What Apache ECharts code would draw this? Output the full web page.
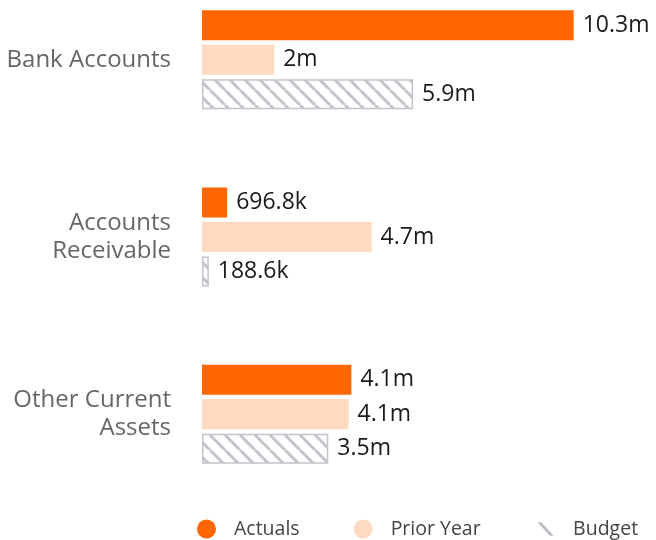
<!DOCTYPE html>
<html>
<head>
<meta charset="utf-8">
<script src="https://cdn.jsdelivr.net/npm/echarts@6/dist/echarts.min.js"></script>
<style>
  html, body { margin: 0; padding: 0; background: #fff; }
  #chart { width: 656px; height: 540px; }
</style>
</head>
<body>
<div id="chart"></div>
<script>
// data
const categories = ['Bank Accounts', 'Accounts\nReceivable', 'Other Current\nAssets'];
const actuals = [10300000, 696800, 4140000];
const priorYear = [2000000, 4700000, 4060000];
const budget = [5850000, 188600, 3500000];

const FONT = '"Open Sans", "Noto Sans", sans-serif';

// stripe pattern for the budget bars
function makeStripes() {
    const s = 15;
    const c = document.createElement('canvas');
    c.width = s; c.height = s;
    const ctx = c.getContext('2d');
    ctx.fillStyle = '#fff';
    ctx.fillRect(0, 0, s, s);
    ctx.strokeStyle = '#c3c3cb';
    ctx.lineWidth = 3;
    for (let k = -1; k <= 1; k++) {
        ctx.beginPath();
        ctx.moveTo(k * s, 0);
        ctx.lineTo(k * s + s, s);
        ctx.stroke();
    }
    return c;
}

function fmt(v) {
    if (v >= 1e6) {
        return (Math.round(v / 1e5) / 10) + 'm';
    }
    return (v / 1e3).toFixed(1) + 'k';
}

const valueLabel = {
    show: true,
    position: 'right',
    distance: 9,
    fontFamily: FONT,
    fontSize: 23,
    color: '#1a1a1a',
    formatter: p => fmt(p.value)
};

const chart = echarts.init(document.getElementById('chart'));
chart.setOption({
    animation: false,
    grid: { left: 202, top: -29, width: 433, height: 532, outerBoundsMode: 'none' },
    xAxis: { type: 'value', min: 0, max: 12000000, show: false },
    yAxis: {
        type: 'category',
        data: categories,
        inverse: true,
        axisLine: { show: false },
        axisTick: { show: false },
        axisLabel: {
            margin: 31,
            fontFamily: FONT,
            fontSize: 24,
            lineHeight: 28,
            color: '#666',
            align: 'right'
        }
    },
    legend: {
        left: 192,
        bottom: -4,
        itemWidth: 45,
        itemHeight: 19,
        itemGap: 54,
        textStyle: { fontFamily: FONT, fontSize: 19.5, color: '#444' },
        data: [
            { name: 'Actuals', icon: 'circle' },
            { name: 'Prior Year', icon: 'circle' },
            {
                name: 'Budget',
                // the empty subpaths only pad the box so the stroke comes out smaller
                icon: 'path://M0,0 L4,0 L17,14 L13,14 Z M-3,-3 L-3,-3 Z M20,17 L20,17 Z',
                itemStyle: { color: '#bcbcc4', borderWidth: 0 }
            }
        ]
    },
    series: [
        {
            name: 'Actuals', type: 'bar', data: actuals,
            barWidth: 30, barGap: '15%',
            itemStyle: { color: '#ff6600' },
            label: valueLabel
        },
        {
            name: 'Prior Year', type: 'bar', data: priorYear,
            barWidth: 30, barGap: '15%',
            itemStyle: { color: '#ffdac1' },
            label: valueLabel
        },
        {
            name: 'Budget', type: 'bar', data: budget,
            barWidth: 30, barGap: '15%',
            itemStyle: {
                color: { image: makeStripes(), repeat: 'repeat' },
                borderColor: '#c3c3cb',
                borderWidth: 1.5
            },
            label: valueLabel
        }
    ]
});
</script>
</body>
</html>
